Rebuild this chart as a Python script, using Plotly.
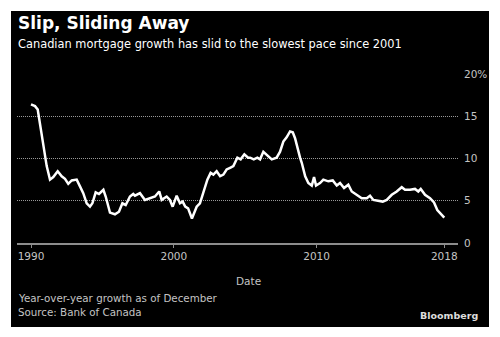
import plotly.graph_objects as go

# Canadian residential mortgage credit, year-over-year growth (%)
years = [
    1990.0, 1990.28, 1990.47, 1990.63, 1990.86, 1991.1, 1991.33, 1991.56, 1991.87,
    1992.15, 1992.38, 1992.61, 1992.85, 1993.2, 1993.43, 1993.66, 1993.9, 1994.13,
    1994.3, 1994.53, 1994.76, 1995.07, 1995.23, 1995.53, 1995.88, 1996.16, 1996.4,
    1996.63, 1996.93, 1997.16, 1997.28, 1997.63, 1997.98, 1998.33, 1998.68, 1998.98,
    1999.15, 1999.5, 1999.73, 1999.92, 2000.2, 2000.43, 2000.62, 2000.8, 2001.0,
    2001.27, 2001.6, 2001.83, 2002.07, 2002.35, 2002.58, 2002.77, 2003.0, 2003.24,
    2003.47, 2003.7, 2003.94, 2004.17, 2004.45, 2004.68, 2004.94, 2005.2, 2005.34,
    2005.6, 2005.85, 2006.04, 2006.27, 2006.5, 2006.86, 2007.2, 2007.44, 2007.67,
    2007.9, 2008.14, 2008.33, 2008.49, 2008.65, 2008.84, 2008.96, 2009.2, 2009.42,
    2009.66, 2009.82, 2009.96, 2010.24, 2010.47, 2010.82, 2011.13, 2011.41, 2011.64,
    2011.92, 2012.22, 2012.46, 2012.81, 2013.16, 2013.51, 2013.74, 2013.97, 2014.32,
    2014.63, 2014.91, 2015.26, 2015.61, 2015.96, 2016.19, 2016.54, 2016.89, 2017.12,
    2017.29, 2017.59, 2017.94, 2018.22, 2018.45, 2018.69, 2018.94,
]
growth = [
    16.4, 16.2, 15.8, 14.2, 11.9, 9.1, 7.5, 7.8, 8.5,
    7.9, 7.6, 7.0, 7.4, 7.5, 6.7, 5.9, 4.7, 4.3,
    4.7, 6.0, 5.8, 6.3, 5.5, 3.6, 3.4, 3.7, 4.7,
    4.5, 5.5, 5.8, 5.6, 5.9, 5.1, 5.3, 5.5, 6.1,
    5.1, 5.5, 5.1, 4.3, 5.6, 4.7, 4.9, 4.3, 4.1,
    2.9, 4.3, 4.7, 5.9, 7.5, 8.3, 8.1, 8.5, 7.9,
    8.1, 8.7, 8.9, 9.1, 10.1, 9.9, 10.5, 10.1, 10.1,
    9.9, 10.1, 9.9, 10.8, 10.4, 9.9, 10.1, 10.8, 12.0,
    12.5, 13.2, 13.1, 12.4, 11.2, 10.1, 9.5, 7.9, 7.1,
    6.8, 7.8, 6.8, 7.1, 7.5, 7.3, 7.4, 6.8, 7.1,
    6.5, 6.9, 6.1, 5.7, 5.3, 5.3, 5.6, 5.1, 5.0,
    4.9, 5.1, 5.7, 6.1, 6.6, 6.3, 6.3, 6.4, 6.1,
    6.4, 5.7, 5.3, 4.8, 3.9, 3.5, 3.0,
]

x_tick_vals = [1990, 2000, 2010, 2018.94]
x_tick_text = ["1990", "2000", "2010", "2018"]
y_tick_vals = [0, 5, 10, 15, 20]
y_tick_text = ["0", "5", "10", "15", "20%"]

W, H = 500, 337
L, R, T, B = 17, 42, 74, 94
PW, PH = W - L - R, H - T - B


def px(x):
    return (x - L) / PW


def py(y):
    return (H - B - y) / PH


FONT = "DejaVu Sans"
GREY = "#c4c4c4"

fig = go.Figure()
fig.add_trace(go.Scatter(
    x=years, y=growth, mode="lines",
    line=dict(color="white", width=2.5, shape="linear"),
    hoverinfo="skip", showlegend=False,
))

# black card behind everything
fig.add_shape(type="rect", xref="paper", yref="paper",
              x0=px(11), x1=px(489), y0=py(327), y1=py(11),
              fillcolor="black", line=dict(width=0), layer="below")

ann = [
    dict(text="<b>Slip, Sliding Away</b>", x=px(16), y=py(23), size=17, color="white", xa="left"),
    dict(text="Canadian mortgage growth has slid to the slowest pace since 2001", x=px(16), y=py(44),
         size=11.4, color="white", xa="left"),
    dict(text="Date", x=px(248), y=py(281), size=10.5, color=GREY, xa="center"),
    dict(text="Year-over-year growth as of December", x=px(16), y=py(298), size=10.3, color=GREY, xa="left"),
    dict(text="Source: Bank of Canada", x=px(16), y=py(312), size=10.3, color=GREY, xa="left"),
    dict(text="<b>Bloomberg</b>", x=px(480), y=py(315), size=9.5, color="#dddddd", xa="right"),
]
for a in ann:
    fig.add_annotation(text=a["text"], x=a["x"], y=a["y"], xref="paper", yref="paper",
                       xanchor=a["xa"], yanchor="middle", showarrow=False,
                       font=dict(family=FONT, size=a["size"], color=a["color"]))

fig.update_layout(
    width=W, height=H,
    margin=dict(l=L, r=R, t=T, b=B, pad=0),
    paper_bgcolor="white",
    plot_bgcolor="rgba(0,0,0,0)",
    font=dict(family=FONT, color=GREY, size=10.5),
    xaxis=dict(
        range=[1989.02, 2019.9],
        tickvals=x_tick_vals, ticktext=x_tick_text,
        showgrid=False, zeroline=False,
        showline=True, linecolor="#8c8c8c", linewidth=1.5,
        ticks="outside", ticklen=3, tickcolor="#8c8c8c", tickwidth=1,
        tickfont=dict(family=FONT, size=10.5, color=GREY),
    ),
    yaxis=dict(
        range=[0, 20], side="right",
        tickvals=y_tick_vals, ticktext=y_tick_text,
        showgrid=True, gridcolor="#999999", gridwidth=1, griddash="1px,1px",
        zeroline=False, showline=False, ticks="",
        ticklabelstandoff=5,
        tickfont=dict(family=FONT, size=10.5, color=GREY),
    ),
)

fig.write_html("out.html")
